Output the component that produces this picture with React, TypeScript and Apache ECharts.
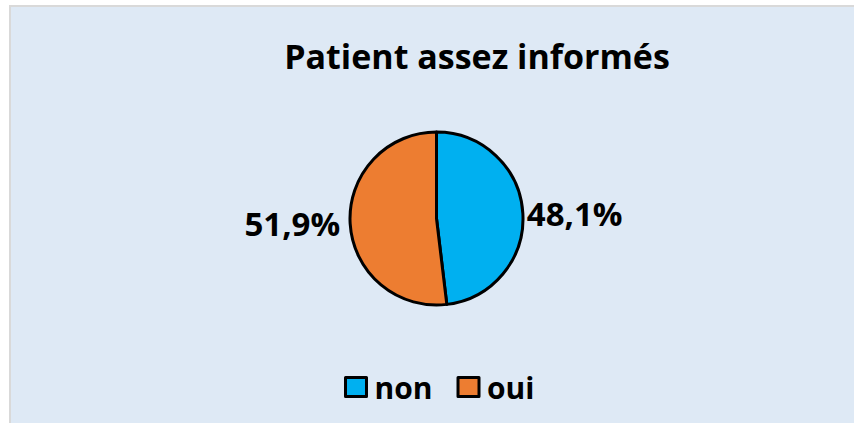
import React, { useEffect, useRef } from "react";
import * as echarts from "echarts";

const TITLE = "Patient assez informés";
const categories = ["non", "oui"];
const values = [48.1, 51.9];
const colors = ["#00b0f0", "#ed7d31"];

const FONT = "Open Sans";

export default function App() {
  const ref = useRef<HTMLDivElement>(null);
  useEffect(() => {
    if (!ref.current) return;
    const chart = echarts.init(ref.current, null, { renderer: "svg" });
    chart.setOption({
      animation: false,
      backgroundColor: "#dee9f5",
      title: {
        text: TITLE,
        left: 461,
        top: 27,
        textAlign: "center",
        textStyle: {
          fontFamily: FONT,
          fontWeight: "bold",
          fontSize: 34,
          color: "#000",
        },
      },
      legend: {
        data: categories,
        left: 333,
        top: 365,
        padding: 0,
        icon: "rect",
        itemWidth: 21,
        itemHeight: 19,
        itemGap: 24,
        itemStyle: { borderColor: "#000", borderWidth: 3 },
        textStyle: {
          fontFamily: FONT,
          fontWeight: "bold",
          fontSize: 30,
          color: "#000",
          padding: [0, 0, 0, 3],
        },
      },
      series: [
        {
          type: "pie",
          center: [425.5, 211.5],
          radius: 86.5,
          startAngle: 90,
          clockwise: true,
          itemStyle: { borderColor: "#000", borderWidth: 3 },
          label: {
            show: true,
            position: "outside",
            formatter: (p: any) => p.value.toFixed(1).replace(".", ",") + "%",
            fontFamily: FONT,
            fontWeight: "bold",
            fontSize: 33,
            color: "#000",
            distanceToLabelLine: 2,
          },
          labelLine: { show: false, length: 2, length2: 0 },
          emphasis: { disabled: true },
          data: categories.map((c, i) => ({
            name: c,
            value: values[i],
            itemStyle: { color: colors[i] },
            label: i === 1 ? { padding: [0, 6, 0, 0] } : { padding: [0, 0, 4, 0] },
          })),
        },
      ],
    });
    return () => chart.dispose();
  }, []);
  return (
    <div style={{ position: "fixed", left: 0, top: 0, width: 854, height: 423, overflow: "hidden", background: "#fff" }}>
      <div
        ref={ref}
        style={{
          position: "absolute",
          left: 9,
          top: 5,
          width: 845,
          height: 418,
          borderTop: "2px solid #d9d9d9",
          borderLeft: "2px solid #d9d9d9",
          boxSizing: "border-box",
        }}
      />
    </div>
  );
}
